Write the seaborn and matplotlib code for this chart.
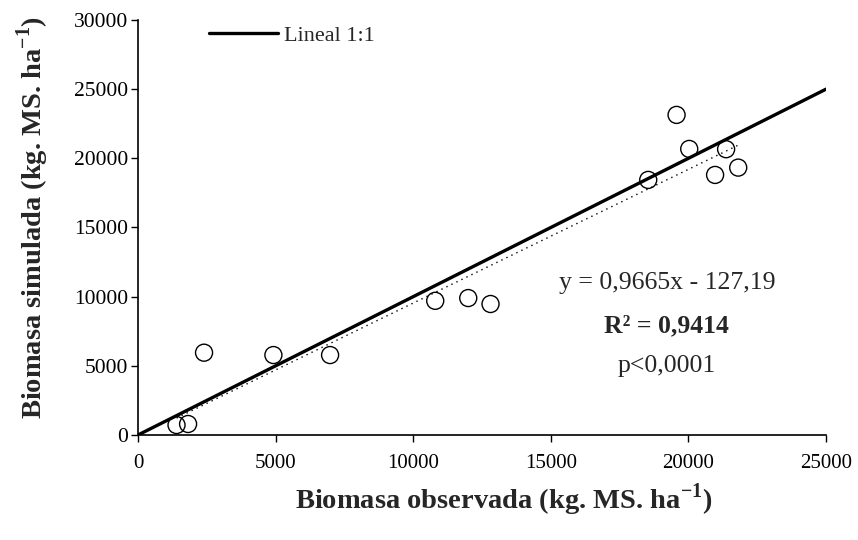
import matplotlib
matplotlib.use("Agg")
import matplotlib.pyplot as plt
import numpy as np
import pandas as pd
import seaborn as sns

# Observed vs simulated biomass (kg MS/ha)
observada = [1400, 1820, 2400, 4920, 6980, 10800, 12000, 12810,
             18540, 19570, 20030, 20970, 21370, 21810]
simulada = [720, 795, 5950, 5780, 5780, 9700, 9900, 9470,
            18440, 23140, 20680, 18800, 20660, 19330]

# Fitted regression and 1:1 reference
pendiente = 0.9665
intercepto = -127.19
r2 = 0.9414
linea_11 = [0, 25000]

x_ticks = [0, 5000, 10000, 15000, 20000, 25000]
y_ticks = [0, 5000, 10000, 15000, 20000, 25000, 30000]


def coma(v, dec):
    return f"{v:.{dec}f}".replace(".", ",")


sns.set_theme(style="ticks")
plt.rcParams["font.family"] = ["Liberation Serif", "DejaVu Serif"]
plt.rcParams["mathtext.fontset"] = "custom"
plt.rcParams["mathtext.rm"] = "Liberation Serif"
plt.rcParams["mathtext.bf"] = "Liberation Serif:bold"

fig = plt.figure(figsize=(8.58, 5.40), dpi=100)
ax = fig.add_axes([138 / 858, 105 / 540, 688 / 858, 415 / 540])

df = pd.DataFrame({"obs": observada, "sim": simulada})
sns.scatterplot(data=df, x="obs", y="sim", ax=ax, s=150, marker="o",
                facecolor="none", edgecolor="black", linewidth=1.0, zorder=3)

# 1:1 line
df11 = pd.DataFrame({"x": linea_11, "y": linea_11})
sns.lineplot(data=df11, x="x", y="y", ax=ax, color="black", linewidth=2.4,
             label="Lineal 1:1", zorder=2)

# regression line across the observed range
xr = np.array([min(observada), max(observada)])
dfr = pd.DataFrame({"x": xr, "y": pendiente * xr + intercepto})
sns.lineplot(data=dfr, x="x", y="y", ax=ax, color="black", linewidth=1.0,
             linestyle=(0, (1, 3)), zorder=2)

ax.set_xlim(0, 25000)
ax.set_ylim(0, 30000)
ax.set_xticks(x_ticks)
ax.set_yticks(y_ticks)
ax.set_xticklabels([str(t) for t in x_ticks])
ax.set_yticklabels([str(t) for t in y_ticks])
ax.tick_params(axis="x", direction="out", length=5, width=1, pad=9,
               labelsize=15, colors="black")
ax.tick_params(axis="y", direction="out", length=5, width=1, pad=2,
               labelsize=15.5, colors="black")
for side in ("top", "right"):
    ax.spines[side].set_visible(False)
for side in ("left", "bottom"):
    ax.spines[side].set_linewidth(1.2)
    ax.spines[side].set_color("black")

ax.set_xlabel(r"Biomasa observada (kg. MS. ha$^{\mathbf{-1}}$)",
              fontsize=20.5, fontweight="bold")
ax.set_ylabel(r"Biomasa simulada (kg. MS. ha$^{\mathbf{-1}}$)",
              fontsize=20.5, fontweight="bold")
ax.xaxis.set_label_coords((504 - 138) / 688, (435 - 500) / 415)
ax.yaxis.set_label_coords((33 - 138) / 688, (435 - 217) / 415)
ax.xaxis.label.set_va("center")
ax.yaxis.label.set_va("center")

ax.legend(loc="center left", frameon=False, fontsize=16,
          handlelength=3.1, handletextpad=0.27, borderpad=0,
          borderaxespad=0, bbox_to_anchor=(0.103, 0.962))

ax.text(19220, 10990, f"y = {coma(pendiente, 4)}x - {coma(-intercepto, 2)}",
        ha="center", va="center", fontsize=18.5)
ax.text(19220, 7880, f"R² = {coma(r2, 4)}", ha="center",
        va="center", fontsize=18.5, fontweight="bold")
ax.text(19220, 4990, "p<0,0001", ha="center", va="center", fontsize=18.5)

fig.savefig("out.png", dpi=100)
